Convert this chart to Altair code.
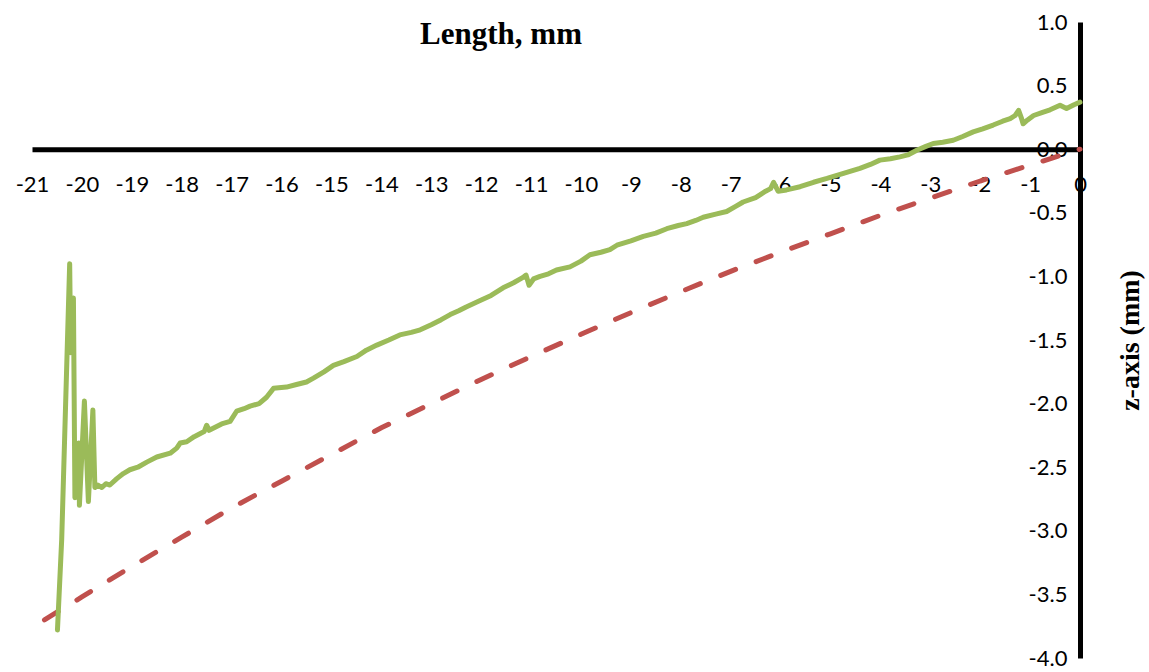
import altair as alt
import pandas as pd

# green measured profile (x in mm, z in mm)
green_x = [-20.49, -20.405, -20.245, -20.225, -20.17, -20.14, -20.06, -20.05, -19.95, -19.87,
           -19.78, -19.74, -19.68, -19.60, -19.52, -19.44, -19.30, -19.17, -19.04, -18.88,
           -18.70, -18.50, -18.23, -18.10, -18.03, -17.90, -17.75, -17.55, -17.50, -17.45,
           -17.30, -17.20, -17.03, -16.90, -16.75, -16.63, -16.45, -16.30, -16.16, -15.90,
           -15.70, -15.50, -15.36, -15.15, -14.96, -14.75, -14.49, -14.30, -14.09, -13.85,
           -13.63, -13.40, -13.22, -13.00, -12.80, -12.62, -12.45, -12.30, -12.02, -11.80,
           -11.56, -11.35, -11.17, -11.10, -11.04, -10.95, -10.82, -10.65, -10.49, -10.22,
           -10.00, -9.82, -9.60, -9.42, -9.28, -9.00, -8.75, -8.50, -8.28, -8.05,
           -7.88, -7.70, -7.55, -7.30, -7.08, -6.90, -6.75, -6.50, -6.30, -6.20,
           -6.14, -6.05, -5.88, -5.61, -5.34, -5.07, -4.74, -4.41, -4.20, -4.01,
           -3.80, -3.61, -3.45, -3.27, -3.10, -2.94, -2.75, -2.54, -2.35, -2.14,
           -1.95, -1.74, -1.55, -1.40, -1.30, -1.23, -1.17, -1.14, -1.05, -0.93,
           -0.75, -0.60, -0.40, -0.27, -0.12, 0.0]
green_z = [-3.78, -3.07, -0.90, -1.60, -1.17, -2.74, -2.31, -2.80, -1.98, -2.77,
           -2.05, -2.66, -2.64, -2.66, -2.63, -2.64, -2.59, -2.55, -2.52, -2.50,
           -2.46, -2.42, -2.39, -2.35, -2.31, -2.30, -2.26, -2.22, -2.17, -2.21,
           -2.18, -2.16, -2.14, -2.06, -2.04, -2.02, -2.00, -1.95, -1.88, -1.87,
           -1.85, -1.83, -1.80, -1.75, -1.70, -1.67, -1.63, -1.58, -1.54, -1.50,
           -1.46, -1.44, -1.42, -1.38, -1.34, -1.30, -1.27, -1.24, -1.19, -1.15,
           -1.09, -1.05, -1.01, -0.99, -1.07, -1.02, -1.00, -0.98, -0.95, -0.925,
           -0.88, -0.83, -0.81, -0.79, -0.755, -0.72, -0.685, -0.66, -0.625, -0.60,
           -0.585, -0.56, -0.535, -0.51, -0.49, -0.45, -0.415, -0.38, -0.33, -0.31,
           -0.26, -0.33, -0.32, -0.295, -0.26, -0.23, -0.19, -0.15, -0.12, -0.086,
           -0.075, -0.06, -0.045, -0.008, 0.02, 0.045, 0.055, 0.07, 0.10, 0.136,
           0.16, 0.19, 0.22, 0.24, 0.265, 0.305, 0.24, 0.20, 0.23, 0.265,
           0.29, 0.31, 0.346, 0.32, 0.35, 0.37]

# red reference curve
red_x = [-20.75, -20.0, -19.0, -18.0, -17.0, -16.0, -15.0, -14.0, -13.0, -12.0, -11.0, -10.0,
         -9.0, -8.0, -7.0, -6.0, -5.0, -4.0, -3.0, -2.0, -1.0, 0.0]
red_z = [-3.70, -3.52, -3.28, -3.05, -2.82, -2.61, -2.40, -2.19, -2.00, -1.81, -1.63, -1.455,
         -1.285, -1.12, -0.96, -0.81, -0.665, -0.52, -0.385, -0.25, -0.125, 0.0]

x_ticks = list(range(-21, 1))
y_ticks = [-4.0, -3.5, -3.0, -2.5, -2.0, -1.5, -1.0, -0.5, 0.0, 0.5, 1.0]

green = pd.DataFrame({"x": green_x, "z": green_z, "order": range(len(green_x))})
red = pd.DataFrame({"x": red_x, "z": red_z, "order": range(len(red_x))})

W, H = 1048, 636
LABEL_FONT = "Lato"

xscale = alt.Scale(domain=[-21, 0], nice=False, zero=False)
yscale = alt.Scale(domain=[-4, 1], nice=False, zero=False)

xaxis = alt.Axis(
    orient="bottom", offset=-(H * 4 / 5), values=x_ticks, grid=False, ticks=False, tickSize=0,
    domainColor="black", domainWidth=5, labelFont=LABEL_FONT, labelFontSize=22,
    labelColor="black", labelPadding=25, labelFlush=False, labelOverlap=False,
    labelExpr="replace(format(datum.value, 'd'), '\u2212', '-')", title=None,
)
yaxis = alt.Axis(
    orient="right", values=y_ticks, grid=False, ticks=False, tickSize=0,
    domainColor="black", domainWidth=5, labelFont=LABEL_FONT, labelFontSize=22,
    labelColor="black", labelAlign="right", labelPadding=-13, labelOverlap=False,
    labelFlush=False,
    labelExpr="replace(format(datum.value, '.1f'), '\u2212', '-')",
    title="z-axis (mm)", titleFont="Liberation Serif", titleFontSize=28,
    titleFontWeight="bold", titleColor="black", titleAngle=270, titlePadding=64,
)

red_line = alt.Chart(red).mark_line(
    color="#C0504D", strokeWidth=5, strokeDash=[16, 22], strokeCap="round"
).encode(
    x=alt.X("x:Q", scale=xscale, axis=xaxis),
    y=alt.Y("z:Q", scale=yscale, axis=yaxis),
    order="order:Q",
)

green_line = alt.Chart(green).mark_line(
    color="#9BBB59", strokeWidth=5, strokeCap="round", strokeJoin="round"
).encode(
    x=alt.X("x:Q", scale=xscale),
    y=alt.Y("z:Q", scale=yscale),
    order="order:Q",
)

chart = alt.layer(red_line, green_line).properties(
    width=W, height=H,
    title=alt.TitleParams(
        "Length, mm", font="Liberation Serif", fontSize=31, fontWeight="bold",
        color="black", anchor="middle", dx=-55, offset=-40,
    ),
    autosize=alt.AutoSizeParams(type="none"),
    padding={"left": 32, "top": 22, "right": 69, "bottom": 14},
).configure(background="white").configure_view(stroke=None, strokeWidth=0)

chart.save("out.html", embed_options={"renderer": "svg", "actions": False})
